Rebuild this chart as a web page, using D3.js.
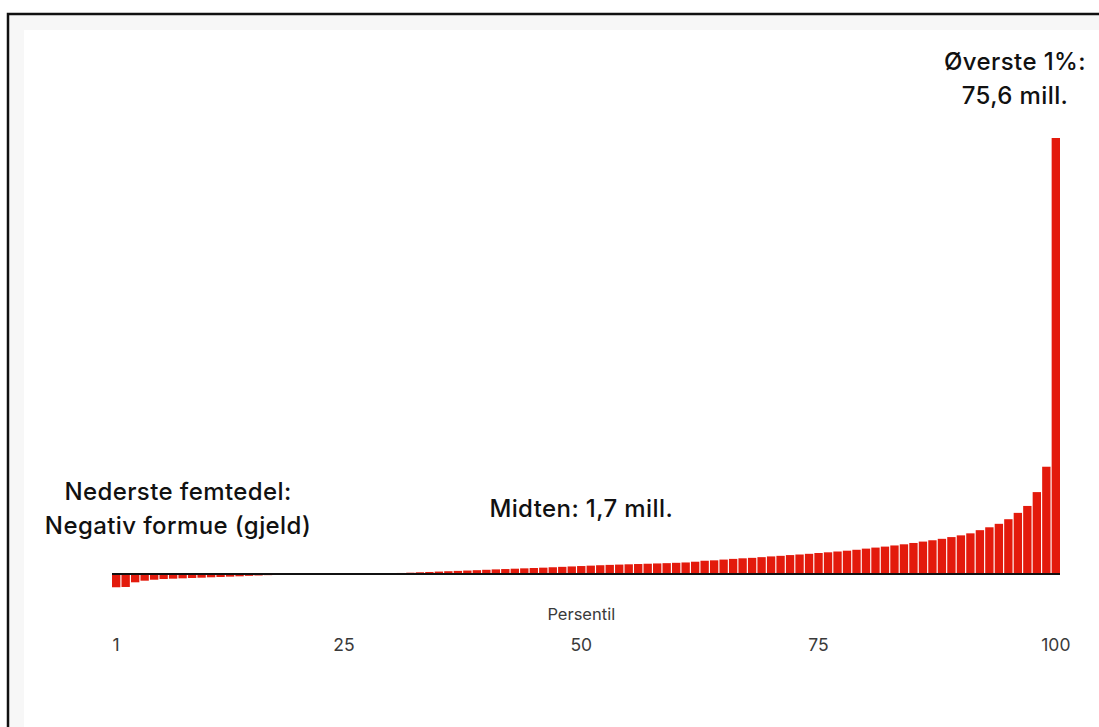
<!DOCTYPE html>
<html>
<head>
<meta charset="utf-8">
<style>
body {
   margin: 0;
   background: #fff;
   font-family: Inter, "Noto Sans", sans-serif;
}
svg { display: block; }
</style>
</head>
<body>
<div id="chart"></div>
<script src="https://d3js.org/d3.v7.min.js"></script>
<script>

// average wealth per percentile, mill. kr
var percentiles = d3.range(1, 101);
var wealth = [
  -2.3, -2.25, -1.44, -1.16, -0.99, -0.87, -0.81, -0.75, -0.69, -0.64,
  -0.57, -0.52, -0.46, -0.40, -0.32, -0.26, -0.20, -0.14, -0.09, -0.04,
  0.01, 0.02, 0.03, 0.04, 0.05, 0.06, 0.08, 0.10, 0.12, 0.15,
  0.18, 0.23, 0.30, 0.35, 0.42, 0.48, 0.54, 0.60, 0.66, 0.73,
  0.80, 0.86, 0.92, 0.98, 1.04, 1.10, 1.17, 1.24, 1.31, 1.38,
  1.45, 1.52, 1.58, 1.63, 1.68, 1.73, 1.78, 1.83, 1.88, 1.94,
  2.00, 2.13, 2.30, 2.37, 2.50, 2.62, 2.72, 2.80, 2.92, 3.05,
  3.15, 3.28, 3.38, 3.50, 3.64, 3.76, 3.90, 4.04, 4.20, 4.40,
  4.58, 4.75, 4.95, 5.15, 5.38, 5.62, 5.85, 6.10, 6.40, 6.70,
  7.05, 7.60, 8.10, 8.70, 9.50, 10.6, 11.8, 14.2, 18.6, 75.6
];
var tickValues = [1, 25, 50, 75, 100];

var W = 1099, H = 727;

var svg = d3.select("#chart").append("svg")
    .attr("width", W)
    .attr("height", H);

// frame
svg.append("rect")
    .attr("x", 8).attr("y", 14)
    .attr("width", W + 20).attr("height", H + 20)
    .attr("fill", "#f7f7f7")
    .attr("stroke", "#111")
    .attr("stroke-width", 2.5);
svg.append("rect")
    .attr("x", 24).attr("y", 30)
    .attr("width", W).attr("height", H)
    .attr("fill", "#fff");

// scales
var x = d3.scaleBand()
    .domain(percentiles)
    .range([112, 1060])
    .paddingInner(0.12)
    .paddingOuter(0);
var y = d3.scaleLinear()
    .domain([0, 75.6])
    .range([574, 138]);

// bars
svg.selectAll(".bar")
    .data(percentiles)
  .enter().append("rect")
    .attr("class", "bar")
    .attr("x", function(d) { return x(d); })
    .attr("width", x.bandwidth())
    .attr("y", function(d) { return Math.min(y(wealth[d - 1]), y(0)); })
    .attr("height", function(d) { return Math.abs(y(wealth[d - 1]) - y(0)); })
    .attr("fill", "#e31a0c");

// zero line
svg.append("line")
    .attr("x1", x(1)).attr("x2", x(100) + x.bandwidth())
    .attr("y1", y(0)).attr("y2", y(0))
    .attr("stroke", "#111")
    .attr("stroke-width", 2);

// x axis labels
var cx = function(d) { return x(d) + x.bandwidth() / 2; };
svg.selectAll(".tick")
    .data(tickValues)
  .enter().append("text")
    .attr("class", "tick")
    .attr("x", cx)
    .attr("y", 651)
    .attr("text-anchor", "middle")
    .attr("font-size", 17.5)
    .attr("fill", "#3a3a3a")
    .text(function(d) { return d; });

svg.append("text")
    .attr("x", cx(50))
    .attr("y", 620)
    .attr("text-anchor", "middle")
    .attr("font-size", 16.5)
    .attr("fill", "#3a3a3a")
    .text("Persentil");

// annotations
function note(lines, px, py) {
  var t = svg.append("text")
      .attr("text-anchor", "middle")
      .attr("font-size", 24)
      .attr("font-weight", 500)
      .attr("letter-spacing", 0.4)
      .attr("fill", "#111");
  lines.forEach(function(s, i) {
    t.append("tspan").attr("x", px).attr("y", py + i * 34).text(s);
  });
}
note(["Øverste 1%:", "75,6 mill."], 1015, 70);
note(["Nederste femtedel:", "Negativ formue (gjeld)"], 178, 500);
note(["Midten: 1,7 mill."], cx(50), 517);

</script>
</body>
</html>
